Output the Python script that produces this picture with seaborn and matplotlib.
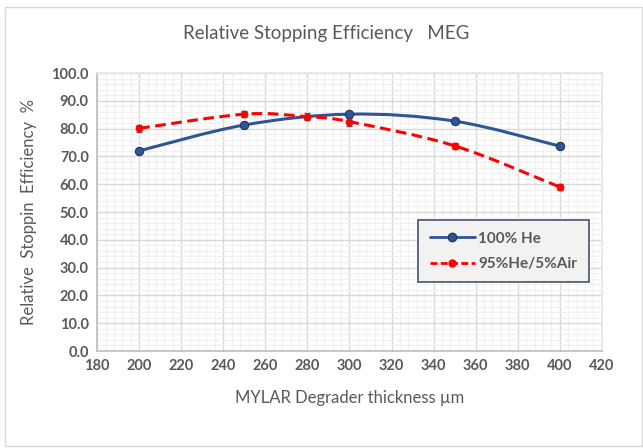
import numpy as np
import matplotlib
matplotlib.use("Agg")
import matplotlib.pyplot as plt
import seaborn as sns
from matplotlib.path import Path
from matplotlib.patches import PathPatch, Rectangle
from matplotlib.ticker import MultipleLocator

# data
he_x = [200, 250, 300, 350, 400]
he_y = [72.0, 81.3, 85.2, 82.7, 73.7]
he_err = [1.2, 1.0, 1.2, 1.0, 1.0]

air_x = [200, 250, 280, 300, 350, 400]
air_y = [80.1, 85.2, 84.3, 82.5, 73.8, 59.0]
air_err = [1.3, 1.0, 1.3, 1.5, 1.0, 1.2]

x_ticks = list(range(180, 421, 20))
y_ticks = list(range(0, 101, 10))

sns.set_theme(style="white")
plt.rcParams["font.family"] = ["Lato", "DejaVu Sans"]


def smooth_path(xs, ys):
    # excel style smoothed line: catmull-rom segments as cubic beziers
    pts = np.column_stack([xs, ys]).astype(float)
    verts = [pts[0]]
    codes = [Path.MOVETO]
    n = len(pts)
    for i in range(n - 1):
        p0 = pts[i - 1] if i > 0 else pts[i]
        p3 = pts[i + 2] if i + 2 < n else pts[i + 1]
        c1 = pts[i] + (pts[i + 1] - p0) / 6
        c2 = pts[i + 1] - (p3 - pts[i]) / 6
        verts += [c1, c2, pts[i + 1]]
        codes += [Path.CURVE4] * 3
    return Path(verts, codes)


fig = plt.figure(figsize=(6.43, 4.48), dpi=100)
fig.patches.append(Rectangle((0.008, 0.005), 0.99, 0.98, transform=fig.transFigure,
                             fill=False, edgecolor="#d9d9d9", linewidth=1))
ax = fig.add_axes([0.151, 0.2165, 0.785, 0.6205])

blue = "#2f5597"
red = "#ff0000"

ax.add_patch(PathPatch(smooth_path(he_x, he_y), fill=False, edgecolor=blue, linewidth=2.2, zorder=3))
ax.add_patch(PathPatch(smooth_path(air_x, air_y), fill=False, edgecolor=red, linewidth=2.2,
                       linestyle=(0, (3.5, 1.8)), zorder=3))

ax.errorbar(he_x, he_y, yerr=he_err, fmt="none", ecolor="#595959", elinewidth=1, capsize=2.5, zorder=4)
ax.errorbar(air_x, air_y, yerr=air_err, fmt="none", ecolor="#595959", elinewidth=1, capsize=2.5, zorder=4)
sns.scatterplot(x=he_x, y=he_y, ax=ax, color=blue, edgecolor="#1f3864", s=36, linewidth=0.8, zorder=5)
sns.scatterplot(x=air_x, y=air_y, ax=ax, color=red, edgecolor=red, s=26, linewidth=0.5, zorder=5)

ax.set_xlim(180, 420)
ax.set_ylim(0, 100)
ax.set_xticks(x_ticks)
ax.set_yticks(y_ticks)
ax.set_yticklabels([f"{v:.1f}" for v in y_ticks])
ax.xaxis.set_minor_locator(MultipleLocator(4))
ax.yaxis.set_minor_locator(MultipleLocator(2))
ax.grid(which="major", color="#d9d9d9", linewidth=1)
ax.grid(which="minor", color="#f0f0f0", linewidth=0.8)
ax.set_axisbelow(True)
for side in ["top", "right"]:
    ax.spines[side].set_color("#e6e6e6")
for side in ["left", "bottom"]:
    ax.spines[side].set_color("#bfbfbf")
ax.tick_params(axis="both", which="both", length=0, labelsize=10.5, colors="#595959", pad=6)
for lab in ax.get_xticklabels() + ax.get_yticklabels():
    lab.set_fontweight("bold")

fig.text(0.507, 0.925, "Relative Stopping Efficiency   MEG", ha="center", va="center",
         fontsize=13.5, color="#595959")
ax.set_xlabel("MYLAR Degrader thickness \u00b5m", fontsize=12, color="#595959", labelpad=12)
ax.set_ylabel("Relative  Stoppin  Efficiency  %", fontsize=12, color="#595959", labelpad=10)

# legend box drawn like the excel one
leg_handles = [
    plt.Line2D([], [], color=blue, linewidth=2, marker="o", markersize=6,
               markerfacecolor=blue, markeredgecolor="#1f3864"),
    plt.Line2D([], [], color=red, linewidth=2, linestyle=(0, (2.5, 1.2)), marker="o", markersize=5,
               markerfacecolor=red, markeredgecolor=red),
]
leg = ax.legend(leg_handles, ["100% He", "95%He/5%Air"], loc="upper left",
                bbox_to_anchor=(0.636, 0.471), borderaxespad=0, frameon=True, fancybox=False,
                facecolor="#f2f2f2", edgecolor="#44546a", framealpha=1,
                handlelength=3.0, handletextpad=0.2, labelspacing=0.75, borderpad=0.75,
                prop={"weight": "bold", "size": 11})
leg.get_frame().set_linewidth(1.2)
for t in leg.get_texts():
    t.set_color("#595959")

fig.savefig("out.png", dpi=100)
